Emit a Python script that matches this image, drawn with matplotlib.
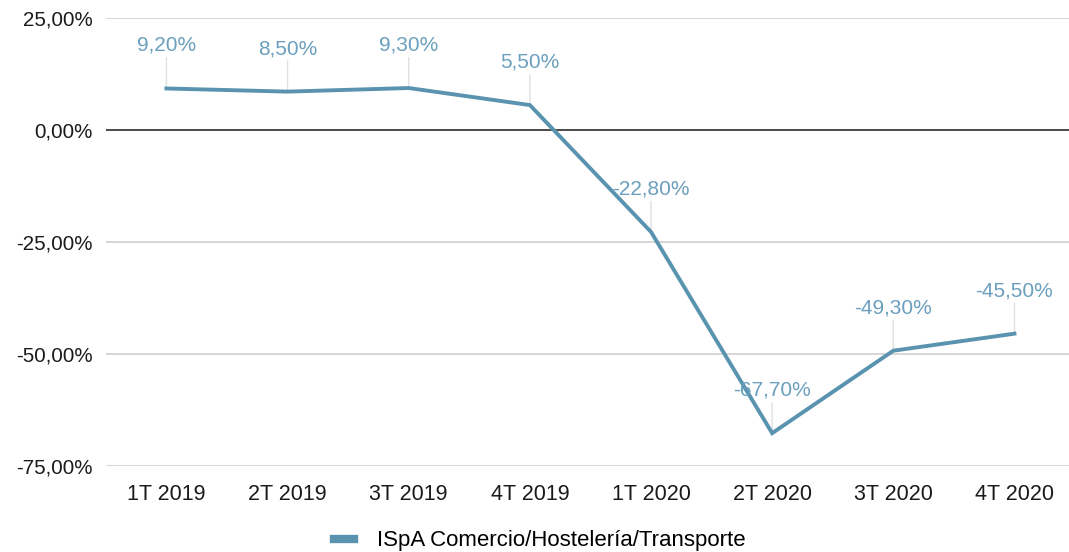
import numpy as np
import matplotlib.pyplot as plt
from matplotlib.ticker import FuncFormatter

plt.rcParams['font.family'] = ['Liberation Sans', 'DejaVu Sans']

# Data
quarters = ['1T 2019', '2T 2019', '3T 2019', '4T 2019',
            '1T 2020', '2T 2020', '3T 2020', '4T 2020']
values = [9.2, 8.5, 9.3, 5.5, -22.8, -67.7, -49.3, -45.5]
series_name = 'ISpA Comercio/Hostelería/Transporte'

line_color = '#5a93b0'
label_color = '#6a9fbd'

fig = plt.figure(figsize=(10.69, 5.52), dpi=100)
ax = fig.add_axes([0.099, 0.156, 0.901, 0.812])

x = np.arange(len(quarters))
ax.plot(x, values, color=line_color, lw=2.8, label=series_name,
        solid_joinstyle='miter', zorder=3)

# value labels with thin leader lines
for xi, v in zip(x, values):
    ax.annotate('', xy=(xi, v), xytext=(0, 22), textcoords='offset points',
                arrowprops=dict(arrowstyle='-', color='#e0e0e0', lw=1.0,
                                shrinkA=0, shrinkB=0), zorder=2)
    ax.annotate(f'{v:.2f}%'.replace('.', ','), xy=(xi, v), xytext=(0, 31),
                textcoords='offset points', ha='center', va='center',
                fontsize=15, color=label_color, zorder=4)

ax.set_ylim(-75, 25)
ax.set_xlim(-0.5, 7.45)
ax.set_yticks([25, 0, -25, -50, -75])
ax.yaxis.set_major_formatter(FuncFormatter(lambda v, p: f'{v:.2f}%'.replace('.', ',')))
ax.set_xticks(x)
ax.set_xticklabels(quarters)

ax.grid(axis='y', color='#d0d0d0', lw=1.2)
ax.axhline(0, color='#333333', lw=1.2, zorder=2)
ax.set_axisbelow(True)
for s in ax.spines.values():
    s.set_visible(False)
ax.tick_params(length=0, colors='#1a1a1a')
ax.tick_params(axis='x', pad=13, labelsize=15.5)
ax.tick_params(axis='y', pad=9.5, labelsize=14.8)

leg = fig.legend(loc='lower center', bbox_to_anchor=(0.505, -0.035), frameon=False,
                 fontsize=16, handlelength=0.9, handletextpad=1.0)
for h in leg.get_lines():
    h.set_linewidth(6)

fig.savefig('out.png', dpi=100)
